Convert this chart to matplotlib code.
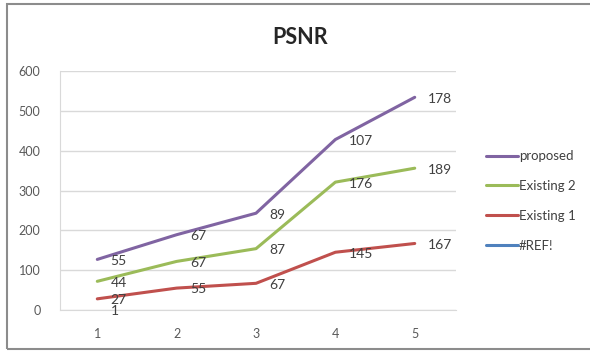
import matplotlib

matplotlib.use("Agg")

import matplotlib.pyplot as plt
import numpy as np
from matplotlib.patches import Rectangle

plt.rcParams["font.family"] = ["Lato", "DejaVu Sans"]

# values shown as data labels (Excel stacked line chart)
x_cats = [1, 2, 3, 4, 5]
ref_vals = [1, np.nan, np.nan, np.nan, np.nan]
existing1 = [27, 55, 67, 145, 167]
existing2 = [44, 67, 87, 176, 189]
proposed = [55, 67, 89, 107, 178]

series = [
    ("#REF!", ref_vals, "#4F81BD"),
    ("Existing 1", existing1, "#C0504D"),
    ("Existing 2", existing2, "#9BBB59"),
    ("proposed", proposed, "#8064A2"),
]

fig = plt.figure(figsize=(5.9, 3.52), dpi=100)
fig.patches.append(
    Rectangle((7 / 590, 1 - 349 / 352), 1.0, 345 / 352, transform=fig.transFigure,
              facecolor="none", edgecolor="#8c8c8c", linewidth=1.5)
)
ax = fig.add_axes([60 / 590, 42 / 352, 396 / 590, 239 / 352])

x = np.array(x_cats, dtype=float)
base = np.zeros(len(x))
handles = {}
for name, vals, color in series:
    v = np.array(vals, dtype=float)
    cum = base + np.nan_to_num(v)
    yplot = np.where(np.isnan(v), np.nan, cum)
    (ln,) = ax.plot(x, yplot, color=color, lw=2.2, solid_capstyle="round")
    handles[name] = ln
    for xi, yi, vi in zip(x, cum, v):
        if np.isnan(vi):
            continue
        ax.annotate(f"{vi:g}", (xi, yi), xytext=(9.5, -1), textcoords="offset points",
                    ha="left", va="center", fontsize=10, color="#404040")
    base = cum

ax.set_xlim(0.53, 5.52)
ax.set_ylim(0, 600)
ax.set_yticks(range(0, 601, 100))
ax.set_xticks(x_cats)
ax.grid(axis="y", color="#d9d9d9", lw=1)
ax.set_axisbelow(True)
for side in ("top", "right"):
    ax.spines[side].set_visible(False)
ax.spines["left"].set_color("#d9d9d9")
ax.spines["bottom"].set_color("#d9d9d9")
ax.tick_params(axis="y", length=0, pad=14, labelsize=9, labelcolor="#595959")
ax.tick_params(axis="x", length=0, pad=13, labelsize=9, labelcolor="#595959")

fig.text(0.508, 1 - 37 / 352, "PSNR", ha="center", va="center", fontsize=15.5,
         fontweight="bold", color="#262626")

order = ["proposed", "Existing 2", "Existing 1", "#REF!"]
leg = fig.legend([handles[n] for n in order], order, loc="center left",
                 bbox_to_anchor=(474 / 590, 1 - 201 / 352), frameon=False,
                 fontsize=9.5, handlelength=2.4, handletextpad=0.1, labelspacing=1.35,
                 labelcolor="#404040")

fig.savefig("out.png", dpi=100, facecolor="white")
